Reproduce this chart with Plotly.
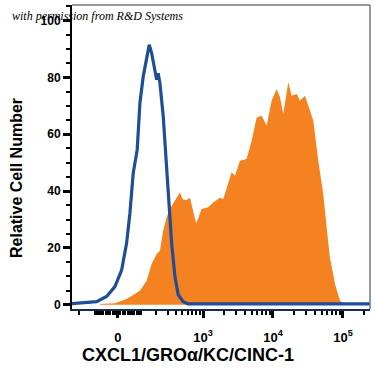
import numpy as np
import plotly.graph_objects as go

# Display (channel) coordinates: 1 unit = 1 decade in log region
iso_x = [1.10, 1.481, 1.624, 1.743, 1.839, 1.910, 1.957, 2.004, 2.061, 2.100, 2.147, 2.196,
         2.233, 2.267, 2.314, 2.339, 2.361, 2.386, 2.433, 2.471, 2.504, 2.553, 2.600,
         2.647, 2.719, 2.786, 5.40]
iso_y = [0, 0.8, 2.6, 6.1, 11.9, 21.4, 31.9, 46.0, 54.2, 70.7, 80.0, 85.9,
         91.2, 88.3, 81.2, 78.9, 81.2, 77.7, 66.0, 51.9, 37.9, 21.4, 9.6,
         3.2, 0.8, 0, 0]

stain_x = [1.529, 1.743, 1.910, 2.100, 2.196, 2.267, 2.339, 2.386, 2.433, 2.481, 2.529,
           2.600, 2.671, 2.714, 2.767, 2.814, 2.904, 2.981, 3.076, 3.147, 3.214, 3.243,
           3.290, 3.361, 3.410, 3.457, 3.529, 3.624, 3.696, 3.767, 3.839, 3.910, 3.981,
           4.053, 4.100, 4.147, 4.219, 4.267, 4.339, 4.386, 4.457, 4.529, 4.576, 4.647,
           4.719, 4.767, 4.814, 4.886, 4.957, 5.029]
stain_y = [0.3, 0.5, 2.0, 4.9, 8.4, 14.3, 17.9, 19.0, 26.1, 30.8, 33.8,
           36.6, 39.5, 37.0, 36.9, 37.7, 28.6, 33.7, 34.3, 36.0, 37.2, 37.7,
           37.2, 42.5, 46.6, 45.4, 50.7, 51.3, 57.7, 65.9, 66.5, 63.0, 71.8,
           75.9, 73.0, 67.1, 78.3, 73.6, 74.2, 71.8, 73.6, 68.3, 64.8, 50.7,
           38.9, 27.1, 16.5, 7.3, 1.4, 0.2]

major_raw = [0, 1e3, 1e4, 1e5]
major_text = ["0", "10<sup>3</sup>", "10<sup>4</sup>", "10<sup>5</sup>"]
minor_raw = ([-v for v in range(100, 300, 100)] + [-v for v in range(10, 100, 10)] +
             list(range(10, 100, 10)) + list(range(100, 1000, 100)) +
             list(range(2000, 10000, 1000)) + list(range(20000, 100000, 10000)) + [200000])

y_ticks = [0, 20, 40, 60, 80, 100]
x_title = "CXCL1/GROα/KC/CINC-1"
y_title = "Relative Cell Number"
credit = "with permission from R&amp;D Systems"

W = 61.0
def f(x):
    return np.log10(W) + np.arcsinh(np.asarray(x, float) / (2 * W)) / np.log(10)

fig = go.Figure()
fig.add_trace(go.Scatter(x=stain_x, y=stain_y, mode="lines", fill="tozeroy",
                         line=dict(width=0, color="#F58220"), fillcolor="#F58220",
                         hoverinfo="skip", showlegend=False))
fig.add_trace(go.Scatter(x=iso_x, y=[v + 0.3 for v in iso_y], mode="lines",
                         line=dict(width=3.2, color="#1F4E96"),
                         hoverinfo="skip", showlegend=False))

fig.update_layout(
    width=375, height=375,
    margin=dict(l=72, r=5, t=5, b=66),
    paper_bgcolor="white", plot_bgcolor="white",
    font=dict(family="Liberation Sans", color="black"),
    xaxis=dict(range=[1.13, 5.386], showgrid=False, zeroline=False, automargin=False,
               showline=True, linecolor="#1a2a50", linewidth=2,
               tickmode="array", tickvals=list(f(major_raw)), ticktext=major_text,
               ticks="outside", ticklen=7, tickwidth=2.5, tickcolor="black",
               ticklabelstandoff=8,
               tickfont=dict(size=13, weight="bold"),
               minor=dict(tickmode="array", tickvals=list(f(minor_raw)), ticks="outside",
                          ticklen=4, tickwidth=1.5, tickcolor="black")),
    yaxis=dict(range=[-1.5, 105.5], showgrid=False, zeroline=False, automargin=False,
               showline=True, linecolor="black", linewidth=2,
               tickmode="array", tickvals=y_ticks,
               ticks="outside", ticklen=7, tickwidth=3, tickcolor="black",
               tickfont=dict(size=12, weight="bold"),
               minor=dict(tickmode="linear", tick0=0, dtick=5, ticks="outside",
                          ticklen=4, tickwidth=1.5, tickcolor="black")),
    shapes=[
        dict(type="line", xref="paper", yref="paper", x0=0, x1=1, y0=1, y1=1,
             line=dict(color="#777777", width=1.5)),
        dict(type="line", xref="paper", yref="paper", x0=1, x1=1, y0=0, y1=1,
             line=dict(color="#777777", width=1.5)),
    ],
    annotations=[
        dict(text=credit, xref="paper", yref="paper",
             x=(10 - 72) / 298, y=(309 - 16) / 304, xanchor="left", yanchor="middle",
             showarrow=False,
             font=dict(family="Liberation Serif", size=12, style="italic", color="black")),
        dict(text=x_title, xref="paper", yref="paper",
             x=(188 - 72) / 298, y=(309 - 355) / 304, xanchor="center", yanchor="middle",
             showarrow=False, font=dict(size=18, weight="bold")),
        dict(text=y_title, xref="paper", yref="paper", textangle=-90,
             x=(16 - 72) / 298, y=(309 - 178) / 304, xanchor="center", yanchor="middle",
             showarrow=False, font=dict(size=16, weight="bold")),
    ],
)

fig.write_html("out.html", config={"displayModeBar": False},
               post_script="document.body.style.margin='0px';document.body.style.overflow='hidden';")
